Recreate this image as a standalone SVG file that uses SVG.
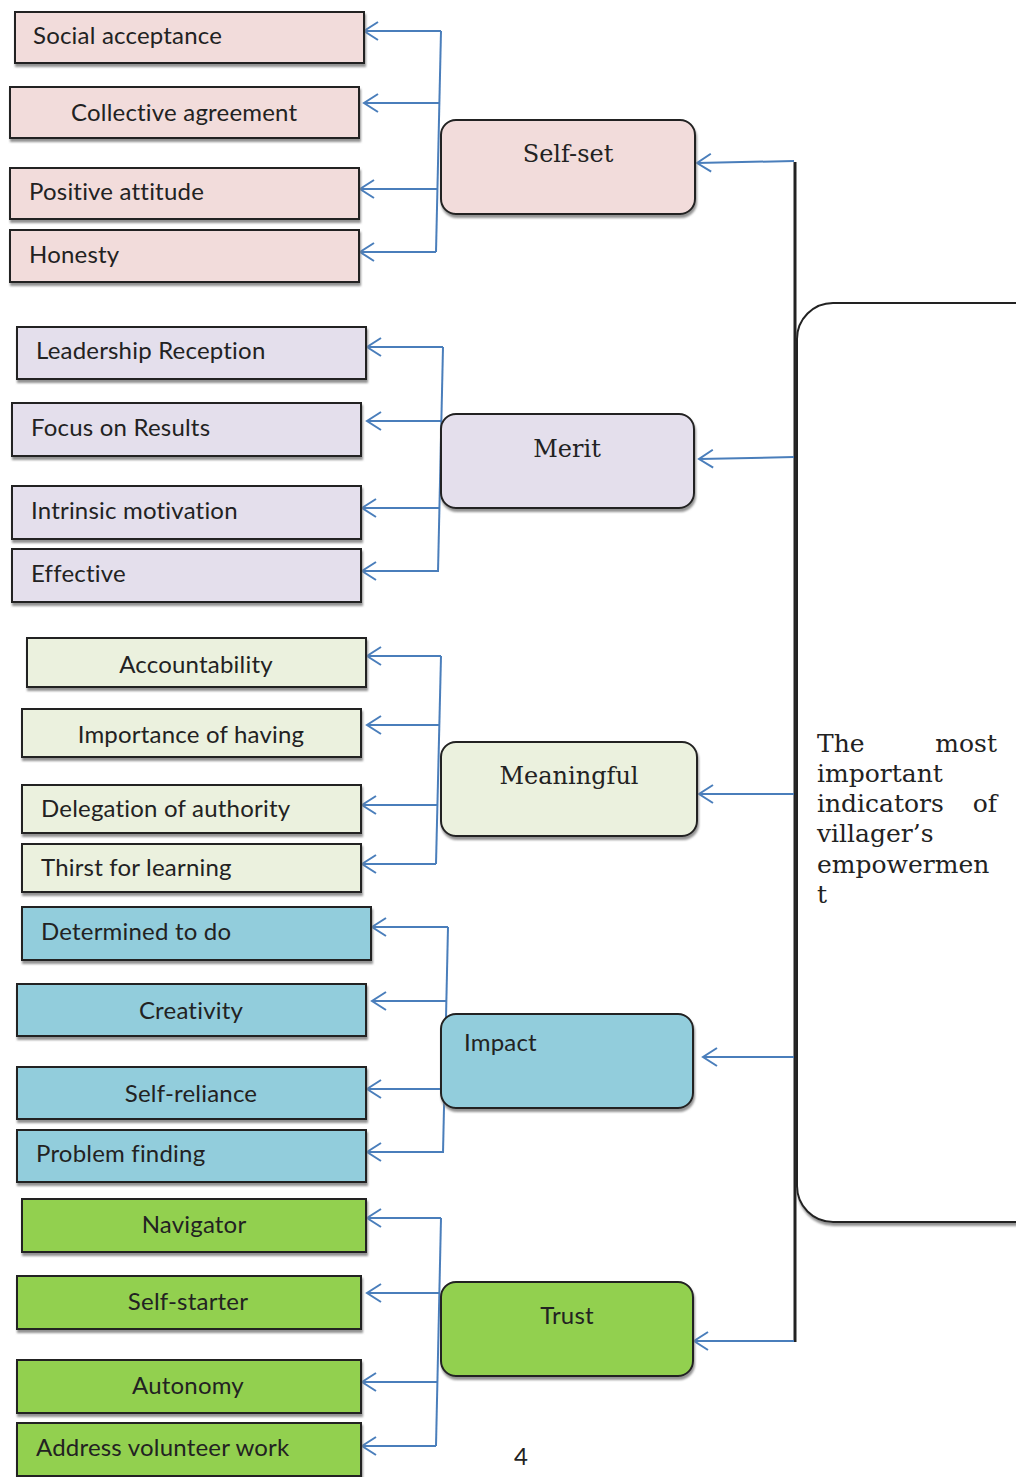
<svg xmlns="http://www.w3.org/2000/svg" width="1016" height="1477" viewBox="0 0 1016 1477">
<defs>
<filter id="sh" x="-5%" y="-10%" width="115%" height="130%">
<feDropShadow dx="1" dy="3" stdDeviation="1" flood-color="#7f7f7f" flood-opacity="0.85"/>
</filter>
<marker id="arr" markerUnits="userSpaceOnUse" markerWidth="18" markerHeight="22" viewBox="0 0 18 22" refX="16" refY="11" orient="auto">
<path d="M2,2 L16,11 L2,20" fill="none" stroke="#4a7ebb" stroke-width="2"/>
</marker>
</defs>
<style>
.b{stroke:#222;stroke-width:2;filter:url(#sh)}
.pink{fill:#f2dcdb}.lav{fill:#e4dfec}.lg{fill:#ebf1de}.blue{fill:#92cddc}.grn{fill:#92d050}
.t{font-family:Lato,"Open Sans",sans-serif;font-size:24px;letter-spacing:0.2px;fill:#222}
.c{text-anchor:middle}
.s{font-family:"DejaVu Serif","Liberation Serif",serif;font-size:24px;fill:#222}
.big{font-size:25px}
.cn{fill:none;stroke:#4a7ebb;stroke-width:2}
.a{fill:none;stroke:#4a7ebb;stroke-width:2;marker-end:url(#arr)}
</style>
<rect width="1016" height="1477" fill="#fff"/>

<g id="connectors">
<line x1="795" y1="162" x2="795" y2="1342" stroke="#222" stroke-width="3"/>
<path class="a" d="M794,161 L697,163"/>
<path class="a" d="M794,457 L699,459"/>
<path class="a" d="M794,794 L699,794"/>
<path class="a" d="M794,1057 L703,1057"/>
<path class="a" d="M794,1341 L694,1341"/>
<!-- Self-set -->
<path class="cn" d="M441,31 L436,252"/>
<path class="a" d="M441,31 L364,31"/>
<path class="a" d="M439,103 L364,103"/>
<path class="a" d="M437,189 L360,189"/>
<path class="a" d="M436,252 L360,252"/>
<!-- Merit -->
<path class="cn" d="M443,347 L438,572"/>
<path class="a" d="M443,347 L367,347"/>
<path class="a" d="M441,421 L367,421"/>
<path class="a" d="M439,508 L362,508"/>
<path class="a" d="M438,571 L362,571"/>
<!-- Meaningful -->
<path class="cn" d="M441,656 L436,864"/>
<path class="a" d="M441,656 L367,656"/>
<path class="a" d="M440,725 L367,725"/>
<path class="a" d="M437,805 L362,805"/>
<path class="a" d="M436,864 L362,864"/>
<!-- Impact -->
<path class="cn" d="M448,927 L443,1153"/>
<path class="a" d="M448,927 L372,927"/>
<path class="a" d="M446,1001 L372,1001"/>
<path class="a" d="M444,1089 L367,1089"/>
<path class="a" d="M443,1152 L367,1152"/>
<!-- Trust -->
<path class="cn" d="M441,1218 L436,1446"/>
<path class="a" d="M441,1218 L367,1218"/>
<path class="a" d="M439,1293 L367,1293"/>
<path class="a" d="M437,1382 L362,1382"/>
<path class="a" d="M436,1446 L362,1446"/>
</g>

<g id="main">
<rect class="b" x="797" y="303" width="260" height="919" rx="36" fill="#fff"/>
<text class="s big" x="817" y="752">The</text><text class="s big" x="997" y="752" text-anchor="end">most</text>
<text class="s big" x="817" y="782">important</text>
<text class="s big" x="817" y="812">indicators</text><text class="s big" x="997" y="812" text-anchor="end">of</text>
<text class="s big" x="817" y="842">villager’s</text>
<text class="s big" x="817" y="873">empowermen</text>
<text class="s big" x="817" y="903">t</text>
</g>

<g id="self-set"><rect class="b pink" x="441" y="120" width="254" height="94" rx="15"/><text class="s c" x="568" y="162">Self-set</text></g>
<g id="merit"><rect class="b lav" x="441" y="414" width="253" height="94" rx="15"/><text class="s c" x="567" y="457">Merit</text></g>
<g id="meaningful"><rect class="b lg" x="441" y="742" width="256" height="94" rx="15"/><text class="s c" x="569" y="784">Meaningful</text></g>
<g id="impact"><rect class="b blue" x="441" y="1014" width="252" height="94" rx="15"/><text class="t" x="464" y="1051">Impact</text></g>
<g id="trust"><rect class="b grn" x="441" y="1282" width="252" height="94" rx="15"/><text class="t c" x="567" y="1324">Trust</text></g>

<g id="social-acceptance"><rect class="b pink" x="15" y="12" width="349" height="51"/><text class="t" x="33" y="44">Social acceptance</text></g>
<g id="collective-agreement"><rect class="b pink" x="10" y="87" width="349" height="51"/><text class="t" x="71" y="121">Collective agreement</text></g>
<g id="positive-attitude"><rect class="b pink" x="10" y="168" width="349" height="51"/><text class="t" x="29" y="200">Positive attitude</text></g>
<g id="honesty"><rect class="b pink" x="10" y="230" width="349" height="52"/><text class="t" x="29" y="263">Honesty</text></g>

<g id="leadership-reception"><rect class="b lav" x="17" y="327" width="349" height="52"/><text class="t" x="36" y="359">Leadership Reception</text></g>
<g id="focus-on-results"><rect class="b lav" x="12" y="403" width="349" height="53"/><text class="t" x="31" y="436">Focus on Results</text></g>
<g id="intrinsic-motivation"><rect class="b lav" x="12" y="486" width="349" height="53"/><text class="t" x="31" y="519">Intrinsic motivation</text></g>
<g id="effective"><rect class="b lav" x="12" y="549" width="349" height="53"/><text class="t" x="31" y="582">Effective</text></g>

<g id="accountability"><rect class="b lg" x="27" y="638" width="339" height="49"/><text class="t c" x="196" y="673">Accountability</text></g>
<g id="importance-of-having"><rect class="b lg" x="22" y="709" width="339" height="48"/><text class="t c" x="191" y="743">Importance of having</text></g>
<g id="delegation-of-authority"><rect class="b lg" x="22" y="785" width="339" height="48"/><text class="t" x="41" y="817">Delegation of authority</text></g>
<g id="thirst-for-learning"><rect class="b lg" x="22" y="844" width="339" height="48"/><text class="t" x="41" y="876">Thirst for learning</text></g>

<g id="determined-to-do"><rect class="b blue" x="22" y="907" width="349" height="53"/><text class="t" x="41" y="940">Determined to do</text></g>
<g id="creativity"><rect class="b blue" x="17" y="984" width="349" height="52"/><text class="t c" x="191" y="1019">Creativity</text></g>
<g id="self-reliance"><rect class="b blue" x="17" y="1067" width="349" height="52"/><text class="t c" x="191" y="1102">Self-reliance</text></g>
<g id="problem-finding"><rect class="b blue" x="17" y="1130" width="349" height="52"/><text class="t" x="36" y="1162">Problem finding</text></g>

<g id="navigator"><rect class="b grn" x="22" y="1199" width="344" height="53"/><text class="t c" x="194" y="1233">Navigator</text></g>
<g id="self-starter"><rect class="b grn" x="17" y="1276" width="344" height="53"/><text class="t c" x="188" y="1310">Self-starter</text></g>
<g id="autonomy"><rect class="b grn" x="17" y="1360" width="344" height="53"/><text class="t c" x="188" y="1394">Autonomy</text></g>
<g id="address-volunteer-work"><rect class="b grn" x="17" y="1423" width="344" height="53"/><text class="t" x="36" y="1456">Address volunteer work</text></g>

<text class="t c" x="521" y="1465">4</text>
</svg>
